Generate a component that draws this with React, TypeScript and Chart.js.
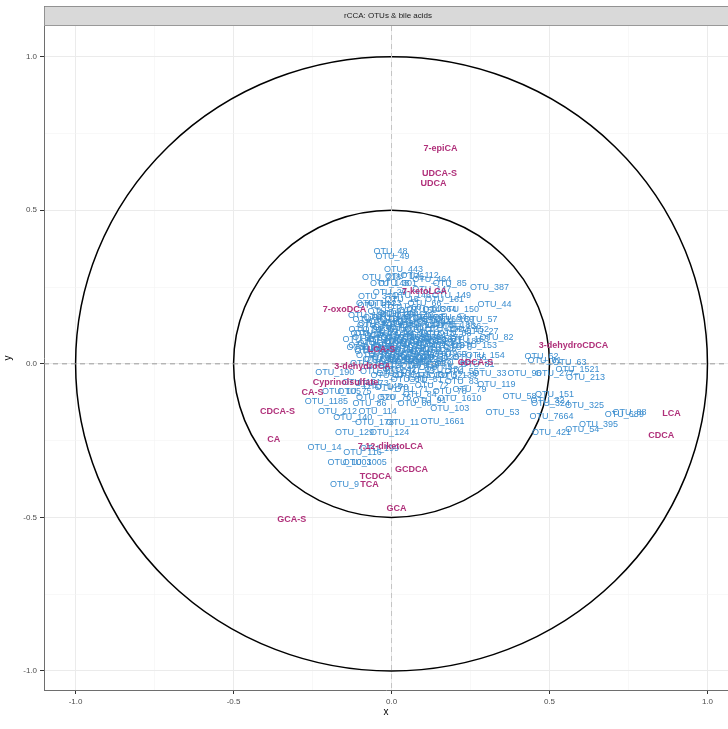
import React, { useEffect, useRef } from "react";
import { Chart, registerables } from "chart.js";

Chart.register(...registerables);

// ---------- data ----------
const stripTitle = "rCCA: OTUs & bile acids";

const otuNames = [
  // upper part
  "OTU_48", "OTU_49", "OTU_443", "OTU_218", "OTU_176", "OTU_464", "OTU_301", "OTU_85", "OTU_112", "OTU_29",
  "OTU_371", "OTU_387", "OTU_161", "OTU_44", "OTU_15", "OTU_23", "OTU_66", "OTU_159", "OTU_37", "OTU_204",
  "OTU_57", "OTU_139", "OTU_136", "OTU_27", "OTU_163", "OTU_82", "OTU_8",
  // dense core
  "OTU_1", "OTU_2", "OTU_3", "OTU_4", "OTU_5", "OTU_6", "OTU_7", "OTU_10", "OTU_12", "OTU_13",
  "OTU_16", "OTU_17", "OTU_18", "OTU_19", "OTU_20", "OTU_21", "OTU_22", "OTU_24", "OTU_25", "OTU_26",
  "OTU_28", "OTU_30", "OTU_31", "OTU_34", "OTU_35", "OTU_36", "OTU_38", "OTU_39", "OTU_40", "OTU_41",
  "OTU_42", "OTU_43", "OTU_45", "OTU_46", "OTU_47", "OTU_50", "OTU_51", "OTU_52", "OTU_55", "OTU_56",
  "OTU_59", "OTU_60", "OTU_64", "OTU_65", "OTU_67", "OTU_68", "OTU_69", "OTU_70", "OTU_71", "OTU_72",
  "OTU_73", "OTU_75", "OTU_76", "OTU_78", "OTU_79", "OTU_80", "OTU_81", "OTU_83", "OTU_84", "OTU_86",
  "OTU_87", "OTU_89", "OTU_90", "OTU_92", "OTU_93", "OTU_94", "OTU_95", "OTU_97", "OTU_98", "OTU_99",
  "OTU_101", "OTU_102", "OTU_104", "OTU_106", "OTU_107", "OTU_108", "OTU_109", "OTU_110", "OTU_111", "OTU_113",
  "OTU_115", "OTU_117", "OTU_118", "OTU_120", "OTU_121", "OTU_122", "OTU_123", "OTU_125", "OTU_126", "OTU_127",
  "OTU_128", "OTU_130", "OTU_132", "OTU_133", "OTU_134", "OTU_135", "OTU_137", "OTU_138", "OTU_141", "OTU_142",
  "OTU_143", "OTU_144", "OTU_146", "OTU_147", "OTU_148", "OTU_149", "OTU_150", "OTU_152", "OTU_153", "OTU_154",
  "OTU_155", "OTU_156", "OTU_157", "OTU_158", "OTU_160", "OTU_162", "OTU_164", "OTU_165", "OTU_166", "OTU_167",
  "OTU_168", "OTU_169", "OTU_170", "OTU_171", "OTU_172", "OTU_173", "OTU_174", "OTU_175", "OTU_177", "OTU_179",
  "OTU_180", "OTU_181", "OTU_182", "OTU_183", "OTU_184", "OTU_185", "OTU_186", "OTU_187", "OTU_188", "OTU_189",
  // right part
  "OTU_62", "OTU_61", "OTU_63", "OTU_1521", "OTU_33", "OTU_96", "OTU_277", "OTU_213", "OTU_119", "OTU_58",
  "OTU_151", "OTU_324", "OTU_32", "OTU_325", "OTU_53", "OTU_7664", "OTU_689", "OTU_88", "OTU_395", "OTU_54",
  "OTU_421",
  // lower left part
  "OTU_190", "OTU_1185", "OTU_105", "OTU_520", "OTU_91", "OTU_1610", "OTU_103", "OTU_212", "OTU_114", "OTU_140",
  "OTU_178", "OTU_11", "OTU_1661", "OTU_129", "OTU_124", "OTU_14", "OTU_116", "OTU_199", "OTU_1003", "OTU_1005",
  "OTU_9", "OTU_131", "OTU_145",
];

const otuX = [
  -0.003, 0.003, 0.038, -0.032, 0.041, 0.127, 0.019, 0.184, 0.089, -0.006,
  -0.044, 0.310, 0.168, 0.326, 0.032, -0.022, 0.104, 0.082, -0.054, 0.025,
  0.282, 0.199, 0.222, 0.285, 0.247, 0.332, 0.209,
  -0.044, 0.009, 0.063, 0.120, 0.152, -0.063, -0.013, 0.041, 0.095, 0.146,
  -0.076, -0.032, 0.019, 0.073, 0.120, 0.168, -0.054, -0.006, 0.051, 0.101,
  0.152, -0.063, -0.019, 0.032, 0.082, 0.127, -0.038, 0.013, 0.063, 0.114,
  0.025, 0.082, 0.139, 0.190, -0.013, 0.051, 0.108, 0.171, 0.222, 0.247,
  -0.022, 0.041, 0.152, -0.101, -0.089, 0.199, 0.184, 0.000, 0.063, 0.127,
  -0.063, -0.117, 0.009, 0.184, 0.247, 0.073, 0.272, 0.222, 0.089, -0.070,
  -0.070, -0.019, 0.032, 0.082, 0.133, 0.184, -0.082, -0.038, 0.013, 0.063,
  0.114, 0.165, -0.063, -0.013, 0.038, 0.089, 0.139, -0.076, -0.032, 0.019,
  0.070, 0.120, 0.171, -0.051, 0.000, 0.051, 0.101, 0.152, -0.070, -0.019,
  0.032, 0.089, 0.165, -0.038, 0.013, 0.063, 0.120, 0.209, 0.019, 0.070,
  0.108, -0.051, 0.063, 0.127, -0.006, 0.190, 0.215, 0.247, 0.272, 0.297,
  -0.044, 0.006, 0.057, 0.108, 0.158, -0.057, -0.006, 0.044, 0.095, 0.146,
  -0.038, 0.013, 0.063, 0.114, 0.165, -0.057, -0.006, 0.044, 0.095, 0.146,
  -0.025, 0.025, 0.076, 0.127, 0.000, 0.051, 0.101, -0.076, 0.203, 0.222,
  0.475, 0.484, 0.563, 0.589, 0.310, 0.421, 0.516, 0.614, 0.332, 0.405,
  0.516, 0.503, 0.494, 0.611, 0.351, 0.506, 0.737, 0.753, 0.655, 0.604,
  0.506,
  -0.180, -0.206, -0.158, -0.051, 0.120, 0.215, 0.184, -0.171, -0.044, -0.123,
  -0.054, 0.035, 0.161, -0.117, -0.006, -0.212, -0.092, -0.038, -0.133, -0.085,
  -0.149, -0.095, -0.028,
];

const otuY = [
  0.365, 0.349, 0.306, 0.280, 0.283, 0.274, 0.261, 0.261, 0.287, 0.231,
  0.218, 0.248, 0.208, 0.192, 0.208, 0.195, 0.195, 0.173, 0.189, 0.160,
  0.143, 0.143, 0.120, 0.104, 0.078, 0.085, 0.052,
  0.150, 0.143, 0.137, 0.150, 0.124, 0.124, 0.117, 0.111, 0.111, 0.098,
  0.098, 0.091, 0.085, 0.085, 0.078, 0.072, 0.065, 0.059, 0.059, 0.052,
  0.046, 0.039, 0.033, 0.033, 0.026, 0.020, 0.013, 0.007, 0.007, 0.000,
  -0.020, -0.026, -0.013, 0.000, -0.039, -0.052, -0.052, -0.039, -0.026, 0.020,
  0.169, 0.182, 0.176, 0.078, 0.052, 0.098, 0.029, -0.078, -0.085, -0.072,
  -0.065, -0.091, -0.111, -0.091, -0.085, -0.130, -0.003, -0.059, -0.101, -0.130,
  0.143, 0.137, 0.130, 0.124, 0.137, 0.150, 0.111, 0.111, 0.104, 0.098,
  0.091, 0.111, 0.085, 0.078, 0.072, 0.072, 0.065, 0.059, 0.052, 0.046,
  0.046, 0.039, 0.059, 0.026, 0.020, 0.020, 0.013, 0.020, 0.000, -0.007,
  -0.007, -0.007, -0.020, -0.026, -0.033, -0.039, -0.039, -0.039, 0.163, 0.156,
  0.176, 0.195, 0.221, 0.241, 0.261, 0.221, 0.176, 0.111, 0.059, 0.026,
  0.130, 0.124, 0.117, 0.130, 0.143, 0.098, 0.091, 0.085, 0.085, 0.078,
  0.072, 0.065, 0.065, 0.059, 0.085, 0.046, 0.039, 0.039, 0.033, 0.033,
  0.013, 0.013, 0.013, 0.007, 0.150, 0.143, 0.150, 0.156, 0.124, 0.072,
  0.023, 0.010, 0.003, -0.020, -0.033, -0.033, -0.033, -0.046, -0.068, -0.107,
  -0.101, -0.130, -0.121, -0.137, -0.160, -0.173, -0.166, -0.160, -0.199, -0.215,
  -0.225,
  -0.029, -0.124, -0.091, -0.111, -0.121, -0.114, -0.147, -0.156, -0.156, -0.176,
  -0.192, -0.192, -0.189, -0.225, -0.225, -0.274, -0.290, -0.277, -0.322, -0.322,
  -0.394, -0.062, -0.075,
];

const acidNames = [
  "7-epiCA", "UDCA-S", "UDCA", "7-oxoDCA", "7-ketoLCA", "LCA-S", "3-dehydroCA", "GDCA-S",
  "3-dehydroCDCA", "Cyprinolsulfate", "CA-S", "CDCA-S", "CA", "7,12-diketoLCA", "GCDCA",
  "TCDCA", "TCA", "GCA", "GCA-S", "LCA", "CDCA",
];
const acidX = [
  0.155, 0.152, 0.133, -0.149, 0.104, -0.032, -0.092, 0.266,
  0.576, -0.146, -0.250, -0.361, -0.373, -0.003, 0.063,
  -0.051, -0.070, 0.016, -0.316, 0.886, 0.854,
];
const acidY = [
  0.700, 0.619, 0.586, 0.176, 0.235, 0.046, -0.010, 0.003,
  0.059, -0.062, -0.094, -0.156, -0.248, -0.270, -0.345,
  -0.368, -0.394, -0.472, -0.508, -0.163, -0.235,
];

const circleRadii = [1, 0.5];
const majorTicks = [-1, -0.5, 0, 0.5, 1];
const minorTicks = [-0.75, -0.25, 0.25, 0.75];
const xLimits = [-1.1, 1.065];
const yLimits = [-1.062, 1.1];

// ---------- styles ----------
const OTU_COLOR = "#3C8ECF";
const ACID_COLOR = "#B0307A";
const FONT = "'Liberation Sans', Arial, Helvetica, sans-serif";

const allTicks = [...majorTicks, ...minorTicks].sort((a, b) => a - b);
const isMajor = (v: number) => majorTicks.some((m) => Math.abs(m - v) < 1e-9);

const overlayPlugin = {
  id: "overlay",
  beforeDatasetsDraw(chart: any) {
    const { ctx, chartArea, scales } = chart;
    const xs = scales.x;
    const ys = scales.y;
    ctx.save();
    ctx.beginPath();
    ctx.rect(chartArea.left, chartArea.top, chartArea.right - chartArea.left, chartArea.bottom - chartArea.top);
    ctx.clip();
    const cx = xs.getPixelForValue(0);
    const cy = ys.getPixelForValue(0);
    // circles
    ctx.strokeStyle = "#000";
    ctx.lineWidth = 1.5;
    circleRadii.forEach((r) => {
      const rx = xs.getPixelForValue(r) - cx;
      const ry = cy - ys.getPixelForValue(r);
      ctx.beginPath();
      ctx.ellipse(cx, cy, rx, ry, 0, 0, Math.PI * 2);
      ctx.stroke();
    });
    // dashed reference lines
    ctx.lineWidth = 1;
    ctx.setLineDash([5, 4]);
    ctx.strokeStyle = "#9A9A9A";
    ctx.beginPath();
    ctx.moveTo(chartArea.left, cy);
    ctx.lineTo(chartArea.right, cy);
    ctx.stroke();
    ctx.strokeStyle = "#C4C4C4";
    ctx.beginPath();
    ctx.moveTo(cx, chartArea.top);
    ctx.lineTo(cx, chartArea.bottom);
    ctx.stroke();
    ctx.restore();
  },
  afterDatasetsDraw(chart: any) {
    const { ctx } = chart;
    ctx.save();
    ctx.textAlign = "center";
    ctx.textBaseline = "middle";
    const m0 = chart.getDatasetMeta(0);
    ctx.font = `9px ${FONT}`;
    ctx.fillStyle = OTU_COLOR;
    m0.data.forEach((el: any, i: number) => {
      ctx.fillText(otuNames[i], el.x, el.y);
    });
    const m1 = chart.getDatasetMeta(1);
    ctx.font = `bold 9px ${FONT}`;
    ctx.fillStyle = ACID_COLOR;
    m1.data.forEach((el: any, i: number) => {
      ctx.fillText(acidNames[i], el.x, el.y);
    });
    ctx.restore();
  },
  afterDraw(chart: any) {
    const { ctx, chartArea } = chart;
    ctx.save();
    const top = 6;
    const bottom = chartArea.top - 1;
    ctx.fillStyle = "#D9D9D9";
    ctx.fillRect(chartArea.left, top, chart.width - chartArea.left + 5, bottom - top);
    ctx.strokeStyle = "#808080";
    ctx.lineWidth = 0.8;
    ctx.strokeRect(chartArea.left + 0.5, top + 0.5, chart.width - chartArea.left + 5, bottom - top);
    ctx.fillStyle = "#1A1A1A";
    ctx.font = `8px ${FONT}`;
    ctx.textAlign = "center";
    ctx.textBaseline = "middle";
    ctx.fillText(stripTitle, 388, (top + bottom) / 2 + 0.5);
    ctx.restore();
  },
};

function makeAxis(limits: number[], title: string, horizontal: boolean) {
  return {
    type: "linear",
    min: limits[0],
    max: limits[1],
    afterBuildTicks(scale: any) {
      scale.ticks = allTicks.map((v) => ({ value: v }));
    },
    afterFit(scale: any) {
      if (horizontal) scale.height = 39;
      else scale.width = 44;
    },
    ticks: {
      autoSkip: false,
      maxRotation: 0,
      padding: 3,
      color: "#4D4D4D",
      font: { family: FONT, size: 8 },
      callback: (v: number) => (isMajor(v) ? v.toFixed(1) : ""),
    },
    grid: {
      color: (c: any) => (c.tick && isMajor(c.tick.value) ? "#EBEBEB" : "#F3F3F3"),
      lineWidth: (c: any) => (c.tick && isMajor(c.tick.value) ? 1 : 0.6),
      tickColor: (c: any) => (c.tick && isMajor(c.tick.value) ? "#333333" : "rgba(0,0,0,0)"),
      tickLength: 4,
      drawTicks: true,
    },
    border: { display: true, color: "#6E6E6E", width: 1 },
    title: {
      display: true,
      text: title,
      color: "#000",
      font: { family: FONT, size: 10 },
      padding: horizontal ? { top: 0, bottom: 11 } : { top: 2, bottom: 0 },
    },
  };
}

export default function App() {
  const ref = useRef<HTMLCanvasElement | null>(null);
  useEffect(() => {
    if (!ref.current) return;
    const chart = new Chart(ref.current, {
      type: "scatter",
      data: {
        datasets: [
          {
            label: "OTUs",
            data: otuNames.map((_, i) => ({ x: otuX[i], y: otuY[i] })),
            pointRadius: 0,
            pointHoverRadius: 0,
          },
          {
            label: "bile acids",
            data: acidNames.map((_, i) => ({ x: acidX[i], y: acidY[i] })),
            pointRadius: 0,
            pointHoverRadius: 0,
          },
        ],
      },
      options: {
        animation: false,
        responsive: false,
        devicePixelRatio: 1,
        events: [],
        layout: { padding: { top: 26, right: 0, left: 0, bottom: 0 } },
        plugins: { legend: { display: false }, tooltip: { enabled: false } },
        scales: {
          x: makeAxis(xLimits, "x", true) as any,
          y: makeAxis(yLimits, "y", false) as any,
        },
      },
      plugins: [overlayPlugin],
    });
    return () => chart.destroy();
  }, []);
  return (
    <div style={{ position: "fixed", left: 0, top: 0, width: 728, height: 729, background: "#fff" }}>
      <canvas ref={ref} width={728} height={729} />
    </div>
  );
}
